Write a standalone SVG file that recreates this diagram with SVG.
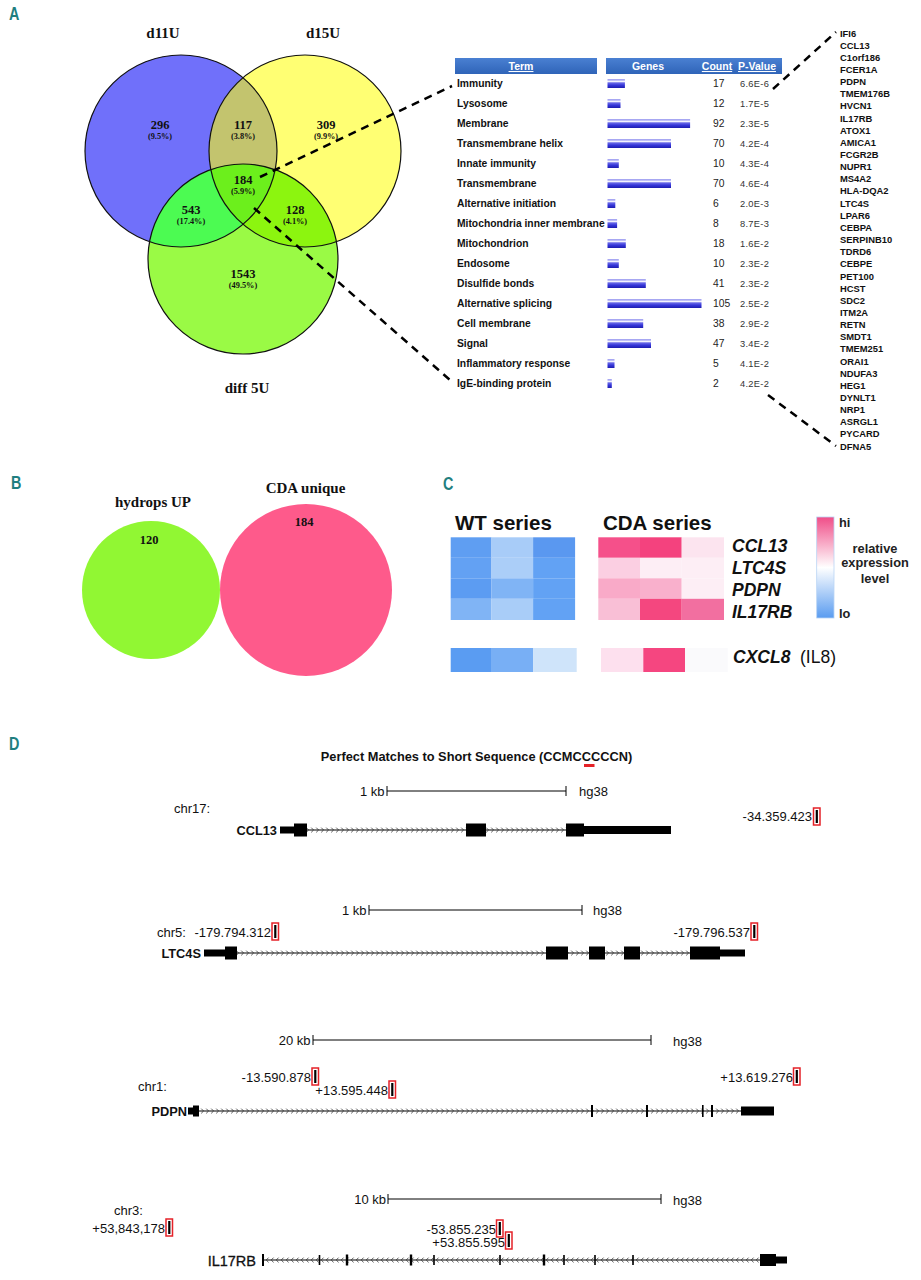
<svg xmlns="http://www.w3.org/2000/svg" width="921" height="1280" viewBox="0 0 921 1280">
<style>
.pl{font-family:"Liberation Sans",Arial,sans-serif;font-weight:bold;fill:#1f7f80;font-size:18px}
.vl{font-family:"Liberation Serif","Times New Roman",serif;font-weight:bold;fill:#111;text-anchor:middle}
.vn{font-size:12.5px}
.vp{font-size:8.3px}
.vt{font-size:15px}
.tt{font-family:"Liberation Sans",Arial,sans-serif;font-weight:bold;font-size:10.3px;fill:#111}
.tc{font-family:"Liberation Sans",Arial,sans-serif;font-size:10.3px;fill:#222}
.tp{font-family:"Liberation Sans",Arial,sans-serif;font-size:9.3px;fill:#333;letter-spacing:0.3px}
.th{font-family:"Liberation Sans",Arial,sans-serif;font-weight:bold;font-size:10.5px;fill:#fff;text-anchor:middle}
.u{text-decoration:underline}
.gl{font-family:"Liberation Sans",Arial,sans-serif;font-weight:bold;font-size:9.4px;fill:#111}
.cs{font-family:"Liberation Sans",Arial,sans-serif;font-weight:bold;font-size:20.5px;fill:#111}
.cg{font-family:"Liberation Sans",Arial,sans-serif;font-weight:bold;font-style:italic;font-size:17.5px;fill:#111}
.cl{font-family:"Liberation Sans",Arial,sans-serif;font-weight:bold;font-size:12.8px;fill:#222}
.dt{font-family:"Liberation Sans",Arial,sans-serif;font-size:13px;fill:#111}
.db{font-family:"Liberation Sans",Arial,sans-serif;font-weight:bold;font-size:12.8px;fill:#111}
.e{fill:#000}
.ln{stroke:#000;stroke-width:1}
.rb{fill:#fff;stroke:#e52228;stroke-width:1.5}
.dash{fill:none;stroke:#000;stroke-width:2.5;stroke-dasharray:8 6}
</style>
<defs>
<clipPath id="k1"><circle cx="181" cy="151" r="96"/></clipPath>
<clipPath id="k2"><circle cx="305" cy="151" r="96"/></clipPath>
<clipPath id="k3"><circle cx="243" cy="259" r="95"/></clipPath>
<linearGradient id="bar" x1="0" y1="0" x2="0" y2="1">
<stop offset="0" stop-color="#9a9af0"/><stop offset="0.2" stop-color="#c8c8f8"/><stop offset="0.3" stop-color="#ffffff"/><stop offset="0.42" stop-color="#6a6ae8"/><stop offset="0.7" stop-color="#3535d8"/><stop offset="1" stop-color="#1e1eb0"/>
</linearGradient>
<linearGradient id="hdr" x1="0" y1="0" x2="0" y2="1">
<stop offset="0" stop-color="#4a80d2"/><stop offset="1" stop-color="#2f64b8"/>
</linearGradient>
<linearGradient id="leg" x1="0" y1="0" x2="0" y2="1">
<stop offset="0" stop-color="#f04d88"/><stop offset="0.5" stop-color="#ffffff"/><stop offset="1" stop-color="#5a9cf0"/>
</linearGradient>
<pattern id="chR" patternUnits="userSpaceOnUse" x="0" y="-3" width="5" height="6">
<path d="M1.2,0.6 L3.6,3 L1.2,5.4" fill="none" stroke="#333" stroke-width="0.8"/>
</pattern>
<pattern id="chL" patternUnits="userSpaceOnUse" x="0" y="-3" width="5" height="6">
<path d="M3.6,0.6 L1.2,3 L3.6,5.4" fill="none" stroke="#333" stroke-width="0.8"/>
</pattern>
</defs>
<rect width="921" height="1280" fill="#fff"/>

<!-- Panel labels -->
<text class="pl" transform="translate(9,20) scale(0.8,1)">A</text>
<text class="pl" transform="translate(11,489) scale(0.8,1)">B</text>
<text class="pl" transform="translate(443,490) scale(0.8,1)">C</text>
<text class="pl" transform="translate(9,750) scale(0.8,1)">D</text>

<!-- Panel A Venn -->
<g id="venn3">
<circle cx="181" cy="151" r="96" fill="#7070fa"/>
<circle cx="305" cy="151" r="96" fill="#ffff73"/>
<circle cx="243" cy="259" r="95" fill="#9afa45"/>
<g clip-path="url(#k1)"><circle cx="305" cy="151" r="96" fill="#c3c46e"/><circle cx="243" cy="259" r="95" fill="#4cfb52"/></g>
<g clip-path="url(#k2)"><circle cx="243" cy="259" r="95" fill="#8cf50f"/></g>
<g clip-path="url(#k2)"><g clip-path="url(#k1)"><circle cx="243" cy="259" r="95" fill="#6cef1c"/></g></g>
<circle cx="181" cy="151" r="96" fill="none" stroke="#111" stroke-width="1.2"/>
<circle cx="305" cy="151" r="96" fill="none" stroke="#111" stroke-width="1.2"/>
<circle cx="243" cy="259" r="95" fill="none" stroke="#111" stroke-width="1.2"/>
<text class="vl vt" x="163" y="38">d11U</text>
<text class="vl vt" x="323" y="38">d15U</text>
<text class="vl vt" x="247" y="393">diff 5U</text>
<text class="vl vn" x="160" y="128.5" fill="#0a0a50">296</text><text class="vl vp" x="160" y="138.5">(9.5%)</text>
<text class="vl vn" x="243" y="128.5">117</text><text class="vl vp" x="243" y="138.5">(3.8%)</text>
<text class="vl vn" x="326" y="128.5">309</text><text class="vl vp" x="326" y="138.5">(9.9%)</text>
<text class="vl vn" x="243" y="184">184</text><text class="vl vp" x="243" y="194">(5.9%)</text>
<text class="vl vn" x="191" y="213.5">543</text><text class="vl vp" x="191" y="223.5">(17.4%)</text>
<text class="vl vn" x="295" y="213.5">128</text><text class="vl vp" x="295" y="223.5">(4.1%)</text>
<text class="vl vn" x="243" y="277.5">1543</text><text class="vl vp" x="243" y="287.5">(49.5%)</text>
</g>

<!-- Table -->
<g id="table">
<rect x="455" y="58" width="142" height="16" fill="url(#hdr)"/>
<rect x="606" y="58" width="176" height="16" fill="url(#hdr)"/>
<text class="th u" x="521" y="70">Term</text>
<text class="th" x="648" y="70">Genes</text>
<text class="th u" x="717" y="70">Count</text>
<text class="th u" x="757" y="70">P-Value</text>
<g id="rows">
<text class="tt" x="457" y="86.5">Immunity</text><rect x="607.5" y="79" width="17.4" height="9" fill="url(#bar)"/><text class="tc" x="713" y="87">17</text><text class="tp" x="740" y="87">6.6E-6</text>
<text class="tt" x="457" y="106.5">Lysosome</text><rect x="607.5" y="99" width="13" height="9" fill="url(#bar)"/><text class="tc" x="713" y="107">12</text><text class="tp" x="740" y="107">1.7E-5</text>
<text class="tt" x="457" y="126.5">Membrane</text><rect x="607.5" y="119" width="82.6" height="9" fill="url(#bar)"/><text class="tc" x="713" y="127">92</text><text class="tp" x="740" y="127">2.3E-5</text>
<text class="tt" x="457" y="146.5">Transmembrane helix</text><rect x="607.5" y="139" width="63.5" height="9" fill="url(#bar)"/><text class="tc" x="713" y="147">70</text><text class="tp" x="740" y="147">4.2E-4</text>
<text class="tt" x="457" y="166.5">Innate immunity</text><rect x="607.5" y="159" width="11.3" height="9" fill="url(#bar)"/><text class="tc" x="713" y="167">10</text><text class="tp" x="740" y="167">4.3E-4</text>
<text class="tt" x="457" y="186.5">Transmembrane</text><rect x="607.5" y="179" width="63.5" height="9" fill="url(#bar)"/><text class="tc" x="713" y="187">70</text><text class="tp" x="740" y="187">4.6E-4</text>
<text class="tt" x="457" y="206.5">Alternative initiation</text><rect x="607.5" y="199" width="7.8" height="9" fill="url(#bar)"/><text class="tc" x="713" y="207">6</text><text class="tp" x="740" y="207">2.0E-3</text>
<text class="tt" x="457" y="226.5">Mitochondria inner membrane</text><rect x="607.5" y="219" width="9.6" height="9" fill="url(#bar)"/><text class="tc" x="713" y="227">8</text><text class="tp" x="740" y="227">8.7E-3</text>
<text class="tt" x="457" y="246.5">Mitochondrion</text><rect x="607.5" y="239" width="18.3" height="9" fill="url(#bar)"/><text class="tc" x="713" y="247">18</text><text class="tp" x="740" y="247">1.6E-2</text>
<text class="tt" x="457" y="266.5">Endosome</text><rect x="607.5" y="259" width="11.3" height="9" fill="url(#bar)"/><text class="tc" x="713" y="267">10</text><text class="tp" x="740" y="267">2.3E-2</text>
<text class="tt" x="457" y="286.5">Disulfide bonds</text><rect x="607.5" y="279" width="38.3" height="9" fill="url(#bar)"/><text class="tc" x="713" y="287">41</text><text class="tp" x="740" y="287">2.3E-2</text>
<text class="tt" x="457" y="306.5">Alternative splicing</text><rect x="607.5" y="299" width="94" height="9" fill="url(#bar)"/><text class="tc" x="713" y="307">105</text><text class="tp" x="740" y="307">2.5E-2</text>
<text class="tt" x="457" y="326.5">Cell membrane</text><rect x="607.5" y="319" width="35.7" height="9" fill="url(#bar)"/><text class="tc" x="713" y="327">38</text><text class="tp" x="740" y="327">2.9E-2</text>
<text class="tt" x="457" y="346.5">Signal</text><rect x="607.5" y="339" width="43.5" height="9" fill="url(#bar)"/><text class="tc" x="713" y="347">47</text><text class="tp" x="740" y="347">3.4E-2</text>
<text class="tt" x="457" y="366.5">Inflammatory response</text><rect x="607.5" y="359" width="7" height="9" fill="url(#bar)"/><text class="tc" x="713" y="367">5</text><text class="tp" x="740" y="367">4.1E-2</text>
<text class="tt" x="457" y="386.5">IgE-binding protein</text><rect x="607.5" y="379" width="4.3" height="9" fill="url(#bar)"/><text class="tc" x="713" y="387">2</text><text class="tp" x="740" y="387">4.2E-2</text>
</g>
</g>

<!-- Gene list -->
<g id="genelist">
<text class="gl" x="840" y="36.5">IFI6</text>
<text class="gl" x="840" y="48.6">CCL13</text>
<text class="gl" x="840" y="60.8">C1orf186</text>
<text class="gl" x="840" y="72.9">FCER1A</text>
<text class="gl" x="840" y="85.1">PDPN</text>
<text class="gl" x="840" y="97.2">TMEM176B</text>
<text class="gl" x="840" y="109.4">HVCN1</text>
<text class="gl" x="840" y="121.5">IL17RB</text>
<text class="gl" x="840" y="133.7">ATOX1</text>
<text class="gl" x="840" y="145.8">AMICA1</text>
<text class="gl" x="840" y="158.0">FCGR2B</text>
<text class="gl" x="840" y="170.1">NUPR1</text>
<text class="gl" x="840" y="182.3">MS4A2</text>
<text class="gl" x="840" y="194.4">HLA-DQA2</text>
<text class="gl" x="840" y="206.6">LTC4S</text>
<text class="gl" x="840" y="218.7">LPAR6</text>
<text class="gl" x="840" y="230.9">CEBPA</text>
<text class="gl" x="840" y="243.0">SERPINB10</text>
<text class="gl" x="840" y="255.2">TDRD6</text>
<text class="gl" x="840" y="267.3">CEBPE</text>
<text class="gl" x="840" y="279.5">PET100</text>
<text class="gl" x="840" y="291.6">HCST</text>
<text class="gl" x="840" y="303.8">SDC2</text>
<text class="gl" x="840" y="315.9">ITM2A</text>
<text class="gl" x="840" y="328.1">RETN</text>
<text class="gl" x="840" y="340.2">SMDT1</text>
<text class="gl" x="840" y="352.4">TMEM251</text>
<text class="gl" x="840" y="364.5">ORAI1</text>
<text class="gl" x="840" y="376.7">NDUFA3</text>
<text class="gl" x="840" y="388.8">HEG1</text>
<text class="gl" x="840" y="401.0">DYNLT1</text>
<text class="gl" x="840" y="413.1">NRP1</text>
<text class="gl" x="840" y="425.3">ASRGL1</text>
<text class="gl" x="840" y="437.4">PYCARD</text>
<text class="gl" x="840" y="449.6">DFNA5</text>
</g>

<!-- Connectors -->
<g id="connectors">
<line class="dash" x1="260" y1="177" x2="452" y2="86"/>
<line class="dash" x1="254" y1="208" x2="450" y2="380"/>
<line class="dash" x1="773" y1="89" x2="836" y2="32"/>
<line class="dash" x1="768" y1="395" x2="836" y2="446"/>
</g>

<!-- Panel B -->
<g id="venn2">
<circle cx="151" cy="590" r="69" fill="#91f733"/>
<circle cx="306" cy="590" r="86" fill="#fe5a8b"/>
<text class="vl vt" x="153" y="507" font-size="15.4">hydrops UP</text>
<text class="vl vt" x="305.5" y="492.7" font-size="15.4">CDA unique</text>
<text class="vl vn" x="149" y="544">120</text>
<text class="vl vn" x="304" y="525.5">184</text>
</g>

<!-- Panel C heatmap -->
<g id="heatmap">
<text class="cs" x="455" y="530">WT series</text>
<text class="cs" x="603" y="530">CDA series</text>
<g id="wt">
<rect x="450.7" y="537.3" width="40.8" height="20.5" fill="#5f9ef2"/>
<rect x="491.5" y="537.3" width="41.6" height="20.5" fill="#a8ccf8"/>
<rect x="533.1" y="537.3" width="42" height="20.5" fill="#5a98f0"/>
<rect x="450.7" y="557.8" width="40.8" height="20.5" fill="#63a1f3"/>
<rect x="491.5" y="557.8" width="41.6" height="20.5" fill="#abcef8"/>
<rect x="533.1" y="557.8" width="42" height="20.5" fill="#62a2f4"/>
<rect x="450.7" y="578.3" width="40.8" height="20.5" fill="#5c9cf2"/>
<rect x="491.5" y="578.3" width="41.6" height="20.5" fill="#80b4f5"/>
<rect x="533.1" y="578.3" width="42" height="20.5" fill="#62a2f4"/>
<rect x="450.7" y="598.8" width="40.8" height="21.2" fill="#80b4f5"/>
<rect x="491.5" y="598.8" width="41.6" height="21.2" fill="#a9cdf8"/>
<rect x="533.1" y="598.8" width="42" height="21.2" fill="#62a2f4"/>
</g>
<g id="cda">
<rect x="598.3" y="537.3" width="41.7" height="20.5" fill="#f5508a"/>
<rect x="640" y="537.3" width="41.7" height="20.5" fill="#f4427e"/>
<rect x="681.7" y="537.3" width="42.3" height="20.5" fill="#fce4ef"/>
<rect x="598.3" y="557.8" width="41.7" height="20.5" fill="#fbcfe2"/>
<rect x="640" y="557.8" width="41.7" height="20.5" fill="#fdeef5"/>
<rect x="681.7" y="557.8" width="42.3" height="20.5" fill="#fdeef5"/>
<rect x="598.3" y="578.3" width="41.7" height="20.5" fill="#f9aac8"/>
<rect x="640" y="578.3" width="41.7" height="20.5" fill="#f9b0cc"/>
<rect x="681.7" y="578.3" width="42.3" height="20.5" fill="#fdeef5"/>
<rect x="598.3" y="598.8" width="41.7" height="21.2" fill="#f9bfd6"/>
<rect x="640" y="598.8" width="41.7" height="21.2" fill="#f4477f"/>
<rect x="681.7" y="598.8" width="42.3" height="21.2" fill="#f26fa0"/>
</g>
<text class="cg" x="732" y="552">CCL13</text>
<text class="cg" x="732" y="574">LTC4S</text>
<text class="cg" x="732" y="596">PDPN</text>
<text class="cg" x="732" y="618">IL17RB</text>
<g id="cxcl8">
<rect x="450.7" y="648" width="40.3" height="24" fill="#5a9cf2"/>
<rect x="491" y="648" width="42.3" height="24" fill="#78aff5"/>
<rect x="533.3" y="648" width="43.4" height="24" fill="#cfe4fa"/>
<rect x="601" y="648" width="42.3" height="24" fill="#fde0ee"/>
<rect x="643.3" y="648" width="41.7" height="24" fill="#f54680"/>
<rect x="685" y="648" width="42.7" height="24" fill="#fafafc"/>
<text class="cg" x="733" y="663">CXCL8</text>
<text x="800" y="663" font-family="Liberation Sans, Arial, sans-serif" font-size="17.5" fill="#111">(IL8)</text>
</g>
<g id="legend">
<rect x="816.7" y="517" width="17.3" height="101" fill="url(#leg)" stroke="#b8d4f4" stroke-width="0.8"/>
<text class="cl" x="839" y="527" font-size="13">hi</text>
<text class="cl" x="839" y="618" font-size="13">lo</text>
<text class="cl" x="875" y="553" text-anchor="middle">relative</text>
<text class="cl" x="875" y="567" text-anchor="middle">expression</text>
<text class="cl" x="875" y="583" text-anchor="middle">level</text>
</g>
</g>

<!-- Panel D -->
<g id="title-d">
<text x="476.5" y="761" text-anchor="middle" font-family="Liberation Sans, Arial, sans-serif" font-weight="bold" font-size="12.8" fill="#111">Perfect Matches to Short Sequence (CCMCCCCCN)</text>
<rect x="584" y="764" width="10.5" height="3" fill="#e52228"/>
</g>

<g id="ccl13">
<path class="ln" d="M387,791 H566 M387,786 V796 M566,786 V796"/>
<text class="dt" x="384.5" y="795.5" text-anchor="end">1 kb</text>
<text class="dt" x="579" y="796">hg38</text>
<text class="dt" x="174" y="813">chr17:</text>
<text class="db" x="277" y="834.5" text-anchor="end" font-size="13">CCL13</text>
<text class="dt" x="812" y="821" text-anchor="end">-34.359.423</text>
<rect class="rb" x="813.5" y="808" width="6.5" height="17"/><rect x="815.7" y="810" width="2.2" height="13" fill="#000"/>
<g transform="translate(0,830)">
<line class="ln" x1="280" y1="0" x2="671" y2="0"/>
<rect x="307" y="-3" width="159" height="6" fill="url(#chR)"/>
<rect x="486" y="-3" width="80" height="6" fill="url(#chR)"/>
<rect class="e" x="280" y="-3.5" width="14" height="7"/>
<rect class="e" x="294" y="-6.5" width="13" height="13"/>
<rect class="e" x="466" y="-6.5" width="20" height="13"/>
<rect class="e" x="566" y="-6.5" width="18" height="13"/>
<rect class="e" x="584" y="-4" width="87" height="8"/>
</g>
</g>

<g id="ltc4s">
<path class="ln" d="M369,910 H582 M369,905 V915 M582,905 V915"/>
<text class="dt" x="366.5" y="914.5" text-anchor="end">1 kb</text>
<text class="dt" x="593" y="915">hg38</text>
<text class="dt" x="157" y="937">chr5:</text>
<text class="dt" x="271" y="937" text-anchor="end">-179.794.312</text>
<rect class="rb" x="272" y="923" width="6.5" height="17"/><rect x="274.2" y="925" width="2.2" height="13" fill="#000"/>
<text class="dt" x="750" y="937" text-anchor="end">-179.796.537</text>
<rect class="rb" x="751" y="923" width="6.5" height="17"/><rect x="753.2" y="925" width="2.2" height="13" fill="#000"/>
<text class="db" x="201" y="957.5" text-anchor="end" font-size="12.5">LTC4S</text>
<g transform="translate(0,953)">
<line class="ln" x1="204" y1="0" x2="745" y2="0"/>
<rect x="237" y="-3" width="309" height="6" fill="url(#chR)"/>
<rect x="568" y="-3" width="21" height="6" fill="url(#chR)"/>
<rect x="605" y="-3" width="19" height="6" fill="url(#chR)"/>
<rect x="640" y="-3" width="50" height="6" fill="url(#chR)"/>
<rect class="e" x="204" y="-3.5" width="21" height="7"/>
<rect class="e" x="225" y="-6.5" width="12" height="13"/>
<rect class="e" x="546" y="-6.5" width="22" height="13"/>
<rect class="e" x="589" y="-6.5" width="16" height="13"/>
<rect class="e" x="624" y="-6.5" width="16" height="13"/>
<rect class="e" x="690" y="-6.5" width="30" height="13"/>
<rect class="e" x="720" y="-3.5" width="25" height="7"/>
</g>
</g>

<g id="pdpn">
<path class="ln" d="M313,1040 H651 M313,1035 V1045 M651,1035 V1045"/>
<text class="dt" x="310.5" y="1044.5" text-anchor="end">20 kb</text>
<text class="dt" x="673" y="1046">hg38</text>
<text class="dt" x="138" y="1091">chr1:</text>
<text class="dt" x="311" y="1082" text-anchor="end">-13.590.878</text>
<rect class="rb" x="312" y="1068" width="6.5" height="17"/><rect x="314.2" y="1070" width="2.2" height="13" fill="#000"/>
<text class="dt" x="388" y="1095" text-anchor="end">+13.595.448</text>
<rect class="rb" x="389" y="1081" width="6.5" height="17"/><rect x="391.2" y="1083" width="2.2" height="13" fill="#000"/>
<text class="dt" x="793" y="1082" text-anchor="end">+13.619.276</text>
<rect class="rb" x="793.5" y="1068" width="6.5" height="17"/><rect x="795.7" y="1070" width="2.2" height="13" fill="#000"/>
<text class="db" x="187" y="1115.5" text-anchor="end" font-size="12.5">PDPN</text>
<g transform="translate(0,1111)">
<line class="ln" x1="188" y1="0" x2="774" y2="0"/>
<rect x="199" y="-3" width="542" height="6" fill="url(#chR)"/>
<rect class="e" x="188" y="-3.5" width="6" height="7"/>
<rect class="e" x="193" y="-5.5" width="6" height="11"/>
<rect class="e" x="591" y="-6" width="2" height="12"/>
<rect class="e" x="646" y="-6" width="2" height="12"/>
<rect class="e" x="702" y="-6" width="1.6" height="12"/>
<rect class="e" x="711" y="-6" width="2" height="12"/>
<rect class="e" x="741" y="-4.5" width="33" height="9"/>
</g>
</g>

<g id="il17rb">
<path class="ln" d="M388,1199 H661 M388,1194 V1204 M661,1194 V1204"/>
<text class="dt" x="386" y="1203.5" text-anchor="end">10 kb</text>
<text class="dt" x="673" y="1205">hg38</text>
<text class="dt" x="114" y="1215">chr3:</text>
<text class="dt" x="165" y="1233" text-anchor="end">+53,843,178</text>
<rect class="rb" x="166" y="1219" width="6.5" height="17"/><rect x="168.2" y="1221" width="2.2" height="13" fill="#000"/>
<text class="dt" x="496" y="1234" text-anchor="end">-53.855.235</text>
<rect class="rb" x="496.5" y="1220" width="6.5" height="17"/><rect x="498.7" y="1222" width="2.2" height="13" fill="#000"/>
<text class="dt" x="505" y="1247" text-anchor="end">+53.855.595</text>
<rect class="rb" x="505.5" y="1232" width="6.5" height="17"/><rect x="507.7" y="1234" width="2.2" height="13" fill="#000"/>
<text x="256" y="1265.5" text-anchor="end" font-family="Liberation Sans, Arial, sans-serif" font-size="14.5" fill="#111" stroke="#111" stroke-width="0.3">IL17RB</text>
<g transform="translate(0,1260)">
<line class="ln" x1="263" y1="0" x2="787" y2="0"/>
<rect x="264" y="-3" width="496" height="6" fill="url(#chL)"/>
<rect class="e" x="262" y="-6" width="2" height="12"/>
<rect class="e" x="318.7" y="-5" width="1.6" height="10"/>
<rect class="e" x="345.8" y="-5.5" width="2.4" height="11"/>
<rect class="e" x="409.8" y="-5.5" width="2.4" height="11"/>
<rect class="e" x="433.2" y="-5" width="1.6" height="10"/>
<rect class="e" x="499.2" y="-5" width="1.6" height="10"/>
<rect class="e" x="542.8" y="-5.5" width="2.4" height="11"/>
<rect class="e" x="563.2" y="-5" width="1.6" height="10"/>
<rect class="e" x="594.2" y="-5" width="1.6" height="10"/>
<rect class="e" x="632.2" y="-5" width="1.6" height="10"/>
<rect class="e" x="760" y="-6" width="16" height="12"/>
<rect class="e" x="776" y="-3.5" width="11" height="7"/>
</g>
</g>
</svg>
